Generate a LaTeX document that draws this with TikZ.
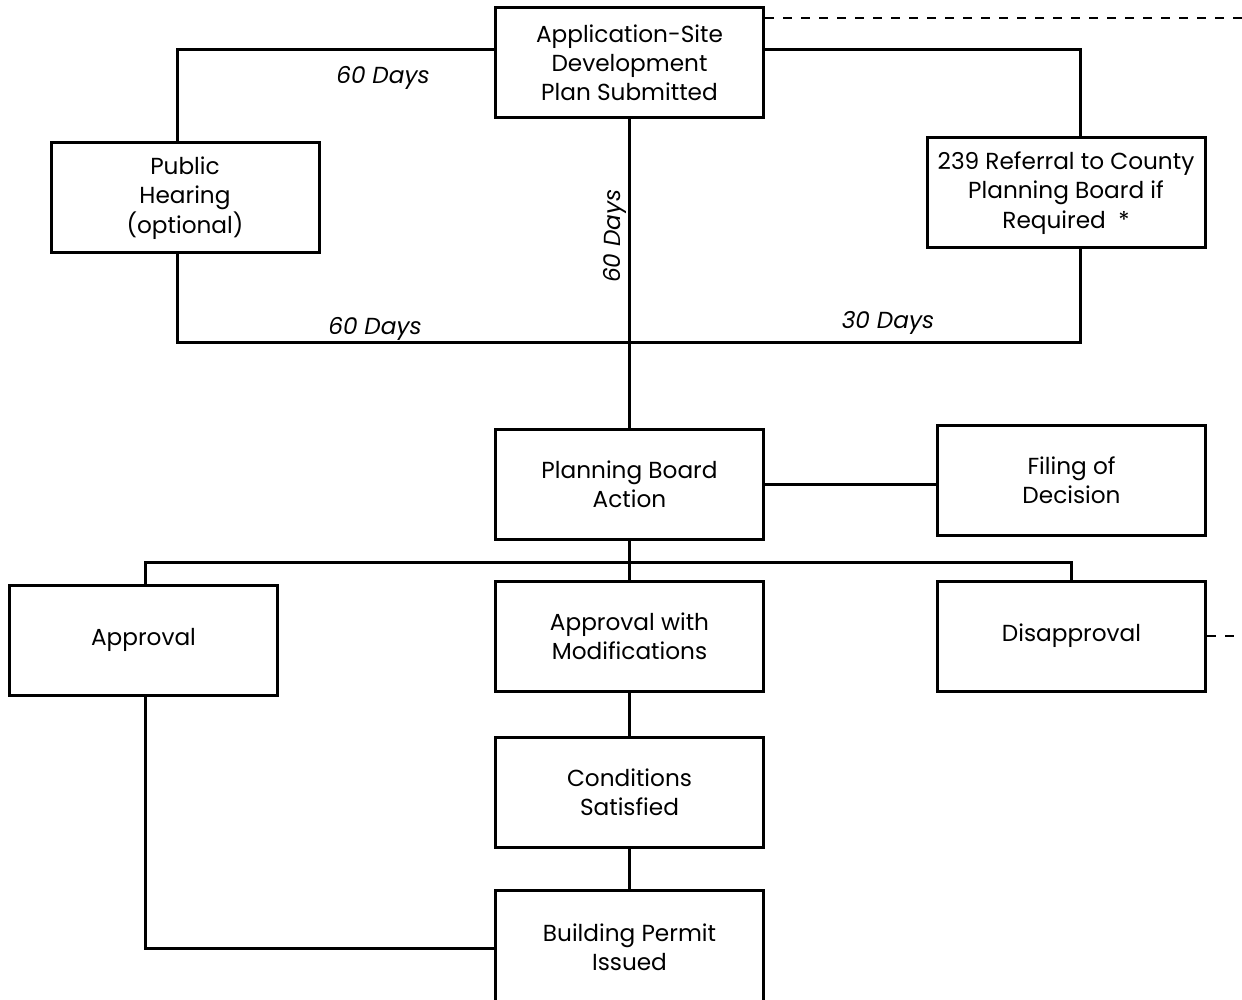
\documentclass[tikz,border=0pt]{standalone}
\usepackage{fontspec}
\setmainfont{Poppins}
\usepackage{tikz}
\usetikzlibrary{positioning, calc}

\begin{document}
\begin{tikzpicture}[
    x=0.5pt, y=-0.5pt,
    every node/.style={font=\fontsize{11.6}{14.6}\selectfont},
    box/.style={
        rectangle,
        draw=black,
        line width=1.5pt,
        minimum height=55pt,
        minimum width=134pt,
        align=center,
        inner sep=2pt
    },
    link/.style={
        line width=1.5pt,
        draw=black
    },
    dashlink/.style={
        line width=1.4pt,
        draw=black,
        dash pattern=on 4.5pt off 4.5pt
    },
    daylabel/.style={
        font=\fontsize{11.6}{13}\selectfont\itshape
    }
]
\useasboundingbox (0,0) rectangle (1242,1000);

% Row 1: application and the two side branches
\node[box] (app) at (629.5,63) {Application-Site\\Development\\Plan Submitted};
\node[box] (hearing) at (185,198) {Public\\Hearing\\(optional)};
\node[box, minimum width=139pt] (referral) at (1066,193) {239 Referral to County\\Planning Board if\\Required \ *};

% Row 2: board action and filing
\node[box] (board) at (629.5,484) {Planning Board\\Action};
\node[box] (filing) at (1071.5,480) {Filing of\\Decision};

% Row 3: outcomes
\node[box] (approval) at (143.5,640) {Approval};
\node[box] (approvalmod) at (629.5,636.5) {Approval with\\Modifications};
\node[box] (disapproval) at (1071.5,636) {Disapproval};

% Row 4 and 5: conditions and permit
\node[box] (conditions) at (629.5,792) {Conditions\\Satisfied};
\node[box, minimum height=57pt] (permit) at (629.5,947) {Building Permit\\Issued};

% Junctions
\coordinate (topleft) at (177,50);
\coordinate (topright) at (1080,50);
\coordinate (lowleft) at (177,342);
\coordinate (lowright) at (1080,342);
\coordinate (split) at (629.5,562);
\coordinate (permitleft) at (145,948);
\coordinate (offtop) at (1250,18);
\coordinate (offright) at (1250,636);

% Branches from the application
\draw[link] (app.west |- topleft) -- (topleft) -- (topleft |- hearing.north);
\draw[link] (app.east |- topright) -- (topright) -- (topright |- referral.north);
\draw[link] (hearing.south -| lowleft) -- (lowleft) -- (lowright) -- (lowright |- referral.south);
\draw[link] (app.south) -- (board.north);

% Board action
\draw[link] (board.east) -- (filing.west |- board.east);
\draw[link] (board.south) -- (split);
\draw[link] (approval.north -| permitleft) |- (split) -| (disapproval.north);
\draw[link] (split) -- (approvalmod.north);

% Down to the permit
\draw[link] (approvalmod.south) -- (conditions.north);
\draw[link] (conditions.south) -- (permit.north);
\draw[link] (approval.south -| permitleft) -- (permitleft) -- (permit.west |- permitleft);

% Dashed exits
\draw[dashlink] (app.east |- offtop) -- (offtop);
\draw[dashlink] (disapproval.east) -- (offright);

% Labels
\node[daylabel] (daysa) at (383,78) {60 Days};
\node[daylabel, rotate=90] (daysb) at (615,236) {60 Days};
\node[daylabel] (daysc) at (375,329) {60 Days};
\node[daylabel] (daysd) at (888,323) {30 Days};

\end{tikzpicture}
\end{document}
